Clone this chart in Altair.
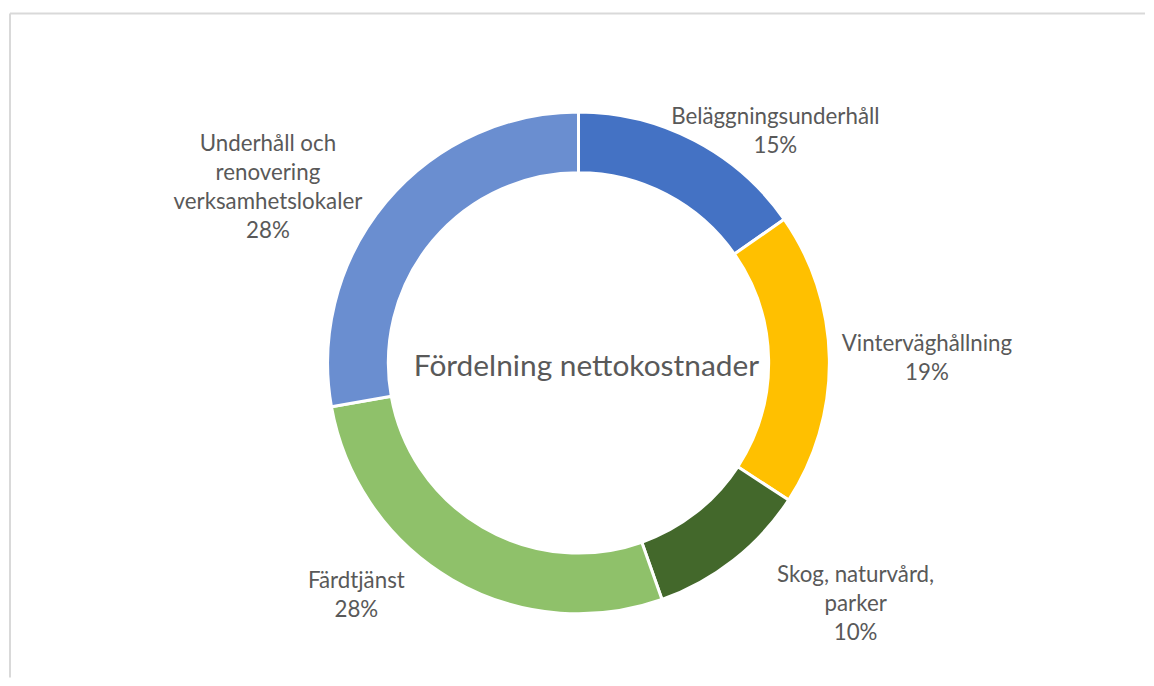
import math
import altair as alt
import pandas as pd

categories = [
    "Beläggningsunderhåll",
    "Vinterväghållning",
    "Skog, naturvård, parker",
    "Färdtjänst",
    "Underhåll och renovering verksamhetslokaler",
]
label_names = [
    "Beläggningsunderhåll",
    "Vinterväghållning",
    "Skog, naturvård,\nparker",
    "Färdtjänst",
    "Underhåll och\nrenovering\nverksamhetslokaler",
]
values = [15.3, 18.9, 10.4, 27.6, 27.8]
colors = ["#4472C4", "#FFC000", "#43682B", "#8FC16A", "#6A8ED0"]
center_title = "Fördelning nettokostnader"

total = sum(values)
df = pd.DataFrame({
    "category": categories,
    "value": values,
    "order": list(range(len(categories))),
    "label": [f"{n}\n{round(v / total * 100)}%" for n, v in zip(label_names, values)],
})

W, H = 1140, 667
CX, CY = 571, 351
FONT = "Lato"
TXT = "#595959"

theta_scale = alt.Scale(domain=[0, total], range=[0, 2 * math.pi])

arcs = alt.Chart(df).mark_arc(
    outerRadius=252, innerRadius=191, stroke="white", strokeWidth=3
).encode(
    theta=alt.Theta("value:Q", stack=True, scale=theta_scale),
    order=alt.Order("order:Q"),
    color=alt.Color("category:N", scale=alt.Scale(domain=categories, range=colors), legend=None),
    x=alt.value(CX),
    y=alt.value(CY),
)

# label offsets (layout only), per category index
offsets = {0: (59, 19), 1: (50, -14), 2: (93, -23), 3: (-72, -40), 4: (-82, -27)}

label_layers = []
for i, (dx, dy) in offsets.items():
    lay = alt.Chart(df).transform_window(
        cum="sum(value)", sort=[alt.SortField("order")]
    ).transform_calculate(
        mid="datum.cum - datum.value / 2"
    ).transform_filter(
        alt.datum.order == i
    ).mark_text(
        radius=300, dx=dx, dy=dy, font=FONT, fontSize=22.4, color=TXT,
        lineBreak="\n", lineHeight=29, align="center", baseline="middle",
    ).encode(
        theta=alt.Theta("mid:Q", scale=theta_scale),
        text="label:N",
        x=alt.value(CX),
        y=alt.value(CY),
    )
    label_layers.append(lay)

title = alt.Chart(pd.DataFrame({"t": [center_title]})).mark_text(
    font=FONT, fontSize=30, color=TXT, align="center", baseline="middle"
).encode(text="t:N", x=alt.value(CX + 8), y=alt.value(CY + 4))

top_rule = alt.Chart(pd.DataFrame({"a": [0]})).mark_rule(color="#d9d9d9", strokeWidth=2).encode(
    x=alt.value(0), x2=alt.value(W), y=alt.value(0)
)
left_rule = alt.Chart(pd.DataFrame({"a": [0]})).mark_rule(color="#d9d9d9", strokeWidth=2).encode(
    x=alt.value(0), y=alt.value(0), y2=alt.value(H)
)

chart = alt.layer(top_rule, left_rule, arcs, title, *label_layers).properties(
    width=W, height=H, background="white",
    padding={"left": 1, "top": 3, "right": 0, "bottom": 0},
).configure_view(stroke=None)

chart.save("out.html", embed_options={"renderer": "svg", "actions": False})
